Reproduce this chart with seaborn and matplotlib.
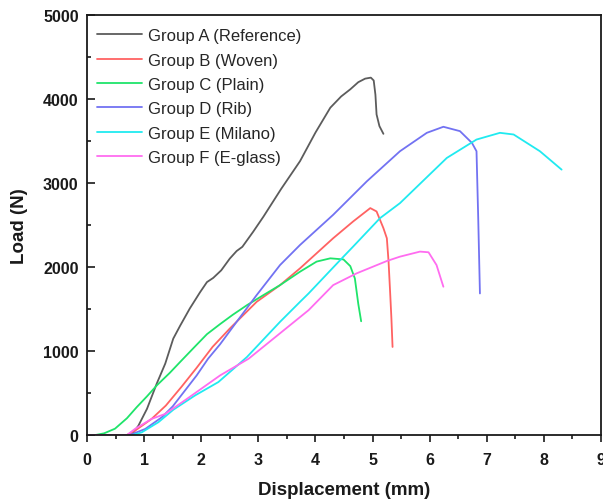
import matplotlib
matplotlib.use("Agg")
import matplotlib.pyplot as plt
from matplotlib.ticker import MultipleLocator
import seaborn as sns
import pandas as pd

# Load-displacement curves for each specimen group (displacement in mm, load in N)
group_names = ["Group A (Reference)", "Group B (Woven)", "Group C (Plain)",
               "Group D (Rib)", "Group E (Milano)", "Group F (E-glass)"]

disp_a = [0, 0.78, 0.90, 1.05, 1.22, 1.37, 1.51, 1.63, 1.80, 1.98, 2.10, 2.21, 2.35,
          2.50, 2.62, 2.72, 2.91, 3.09, 3.40, 3.73, 4.00, 4.26, 4.45, 4.61, 4.75,
          4.87, 4.97, 5.02, 5.05, 5.07, 5.12, 5.19]
load_a = [0, 0, 111, 311, 610, 850, 1147, 1300, 1506, 1700, 1820, 1870, 1960,
          2100, 2190, 2240, 2420, 2600, 2930, 3260, 3600, 3896, 4030, 4115, 4200,
          4242, 4254, 4220, 4050, 3816, 3677, 3585]

disp_b = [0, 0.70, 0.84, 1.13, 1.38, 1.65, 1.92, 2.20, 2.50, 2.97, 3.38, 3.73, 4.31,
          4.66, 4.96, 5.07, 5.19, 5.25, 5.28, 5.31, 5.33, 5.35]
load_b = [0, 0, 51, 191, 350, 570, 800, 1050, 1267, 1585, 1784, 1984, 2342,
          2542, 2701, 2661, 2462, 2342, 2064, 1665, 1386, 1048]

disp_c = [0, 0.15, 0.30, 0.49, 0.70, 0.87, 1.05, 1.22, 1.45, 1.63, 1.90, 2.10, 2.33,
          2.55, 2.80, 3.10, 3.38, 3.73, 4.02, 4.26, 4.49, 4.61, 4.69, 4.75, 4.80]
load_c = [0, 0, 20, 75, 200, 331, 460, 589, 740, 869, 1060, 1200, 1320,
          1430, 1545, 1670, 1784, 1944, 2064, 2103, 2090, 2010, 1864, 1560, 1354]

disp_d = [0, 0.75, 1.02, 1.31, 1.50, 1.92, 2.12, 2.33, 2.62, 2.97, 3.38, 3.73, 4.31,
          4.90, 5.48, 5.95, 6.24, 6.53, 6.74, 6.82, 6.85, 6.88]
load_d = [0, 0, 72, 211, 340, 709, 908, 1080, 1347, 1665, 2023, 2262, 2621,
          3020, 3378, 3597, 3669, 3617, 3477, 3378, 2581, 1685]

disp_e = [0, 0.80, 0.96, 1.25, 1.51, 1.89, 2.30, 2.80, 3.38, 3.73, 3.88, 4.43, 4.66,
          5.13, 5.48, 6.30, 6.82, 7.23, 7.47, 7.93, 8.31]
load_e = [0, 0, 32, 152, 300, 470, 630, 928, 1347, 1585, 1685, 2080, 2243,
          2581, 2760, 3298, 3517, 3597, 3577, 3378, 3159]

disp_f = [0, 0.70, 0.84, 1.13, 1.37, 1.75, 2.33, 2.83, 3.88, 4.31, 4.72, 5.25, 5.48,
          5.83, 5.98, 6.12, 6.24]
load_f = [0, 0, 72, 191, 251, 430, 709, 908, 1486, 1784, 1924, 2071, 2123,
          2183, 2175, 2023, 1765]

line_colors = ["#5c5c5c", "#ff6262", "#1fe46a", "#7272f2", "#20eaf0", "#ff6cf0"]

frames = []
for name, xs, ys in zip(group_names,
                        [disp_a, disp_b, disp_c, disp_d, disp_e, disp_f],
                        [load_a, load_b, load_c, load_d, load_e, load_f]):
    frames.append(pd.DataFrame({"Displacement": xs, "Load": ys, "Group": name}))
df = pd.concat(frames, ignore_index=True)

sns.set_style("ticks")
plt.rcParams["font.family"] = ["Liberation Sans", "DejaVu Sans"]

fig = plt.figure(figsize=(6.03, 5.02), dpi=100)
ax = fig.add_axes([0.1443, 0.1315, 0.8524, 0.8367])

palette = dict(zip(group_names, line_colors))
sns.lineplot(data=df, x="Displacement", y="Load", hue="Group", hue_order=group_names,
             palette=palette, sort=False, estimator=None, units="Group",
             linewidth=1.3, ax=ax, legend=False)

ax.set_xlim(0, 9)
ax.set_ylim(0, 5000)
ax.xaxis.set_major_locator(MultipleLocator(1))
ax.xaxis.set_minor_locator(MultipleLocator(0.5))
ax.yaxis.set_major_locator(MultipleLocator(1000))
ax.yaxis.set_minor_locator(MultipleLocator(500))

ax.tick_params(axis="y", which="major", direction="in", length=5.5, width=1.2,
               labelsize=11.5, pad=6, colors="#1a1a1a")
ax.tick_params(axis="y", which="minor", direction="in", length=3, width=1.2,
               colors="#1a1a1a")
ax.tick_params(axis="x", which="major", direction="out", length=5.3, width=1.2,
               labelsize=11.5, pad=7, colors="#1a1a1a")
ax.tick_params(axis="x", which="minor", direction="out", length=3, width=1.2,
               colors="#1a1a1a")
for lab in ax.get_xticklabels() + ax.get_yticklabels():
    lab.set_fontweight("bold")

for side in ["left", "right", "top", "bottom"]:
    ax.spines[side].set_visible(True)
    ax.spines[side].set_linewidth(1.3)
    ax.spines[side].set_color("#1a1a1a")

ax.set_xlabel("Displacement (mm)", fontsize=13.5, fontweight="bold", labelpad=10,
              color="#1a1a1a")
ax.set_ylabel("Load (N)", fontsize=13.5, fontweight="bold", labelpad=11,
              color="#1a1a1a")

handles = [plt.Line2D([], [], color=c, lw=1.3) for c in line_colors]
ax.legend(handles, group_names, loc="upper left", bbox_to_anchor=(-0.006, 1.0),
          frameon=False, fontsize=12, handlelength=2.7, handletextpad=0.36,
          labelspacing=0.56, borderaxespad=0.3, borderpad=0.5)

fig.savefig("out.png", dpi=100)
